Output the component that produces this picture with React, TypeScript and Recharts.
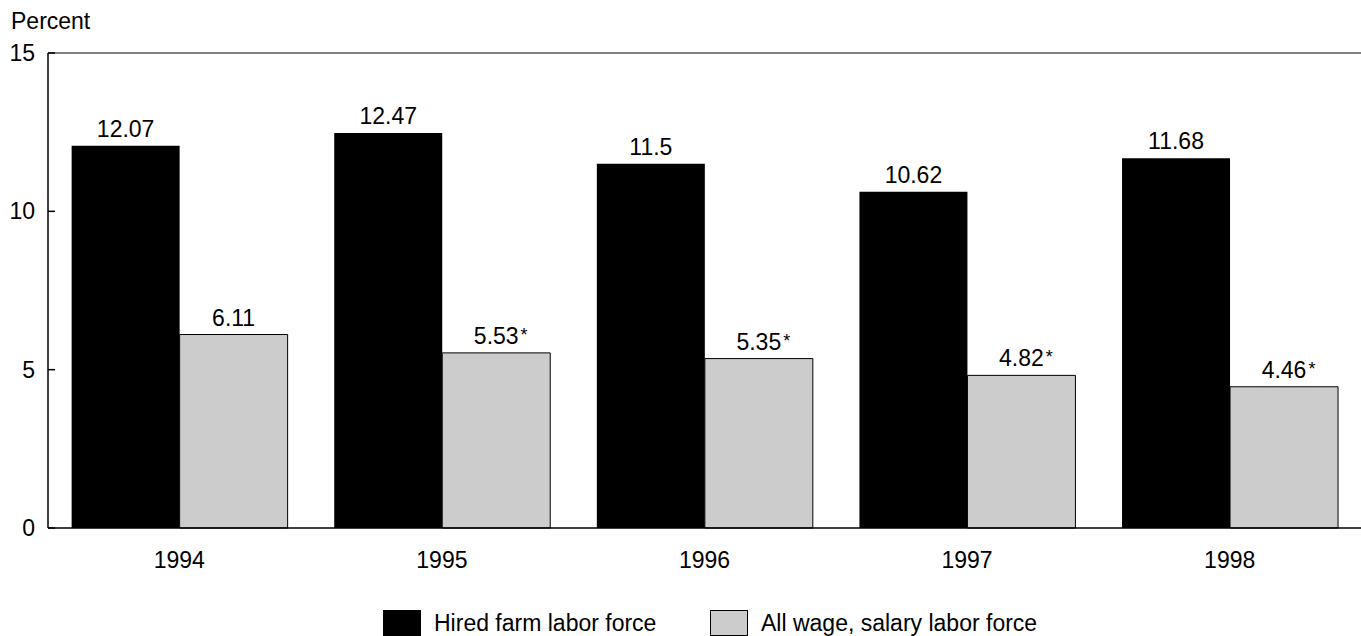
import { BarChart, Bar, XAxis, YAxis, Legend, LabelList, ReferenceLine } from 'recharts';

const years = ['1994', '1995', '1996', '1997', '1998'];
const hiredFarm = [12.07, 12.47, 11.5, 10.62, 11.68];
const allWage = [6.11, 5.53, 5.35, 4.82, 4.46];
// asterisk marks the values flagged in the source
const allWageFlag = [false, true, true, true, true];
const yTicks = [0, 5, 10, 15];

const FONT = '"Liberation Sans", Arial, sans-serif';
const FS = 23;

const data = years.map((year, i) => ({
  year,
  hired: hiredFarm[i],
  all: allWage[i],
}));

// rough Arial advance widths, used to place the asterisk after a centred number
function textWidth(s: string) {
  let w = 0;
  for (const ch of s) w += ch === '.' ? 0.278 : 0.556;
  return w * FS;
}

function makeLabel(flags?: boolean[]) {
  return (props: any) => {
    const { x, y, width, value, index } = props;
    const cx = Number(x) + Number(width) / 2;
    const by = Number(y) - 9;
    const txt = String(value);
    return (
      <g>
        <text x={cx} y={by} textAnchor="middle" fontSize={FS} fontFamily={FONT} fill="#000">
          {txt}
        </text>
        {flags && flags[index] && (
          <text x={cx + textWidth(txt) / 2 + 2} y={by - 3} fontSize={18} fontFamily={FONT} fill="#000">
            *
          </text>
        )}
      </g>
    );
  };
}

function LegendContent() {
  const items = [
    { label: 'Hired farm labor force', fill: '#000', left: 383 },
    { label: 'All wage, salary labor force', fill: '#cccccc', left: 710 },
  ];
  return (
    <div style={{ position: 'relative', height: 40, fontFamily: FONT, fontSize: FS, color: '#000' }}>
      {items.map((it) => (
        <div key={it.label} style={{ position: 'absolute', top: 14, left: it.left, display: 'flex' }}>
          <div
            style={{
              width: 38,
              height: 26,
              background: it.fill,
              border: '1px solid #000',
              boxSizing: 'border-box',
            }}
          />
          <span style={{ marginLeft: 13, lineHeight: '26px', whiteSpace: 'nowrap' }}>{it.label}</span>
        </div>
      ))}
    </div>
  );
}

export default function App() {
  return (
    <div style={{ position: 'absolute', left: 0, top: 0, background: '#fff' }}>
      <BarChart
        width={1361}
        height={636}
        data={data}
        margin={{ top: 53, right: 0, bottom: 0, left: 0 }}
        barCategoryGap="9%"
        barGap={0}
      >
        <XAxis
          dataKey="year"
          height={68}
          tickLine={false}
          tickSize={0}
          tickMargin={24}
          axisLine={{ stroke: '#000', strokeWidth: 1.5 }}
          tick={{ fill: '#000', fontSize: FS, fontFamily: FONT }}
        />
        <YAxis
          width={48}
          domain={[0, 15]}
          ticks={yTicks}
          interval={0}
          tickSize={-7}
          tickMargin={20}
          axisLine={{ stroke: '#000', strokeWidth: 1.5 }}
          tickLine={{ stroke: '#000', strokeWidth: 1.5 }}
          tick={{ fill: '#000', fontSize: FS, fontFamily: FONT }}
          label={(p: any) => (
            <text x={11} y={p.viewBox.y - 24} fontSize={FS} fontFamily={FONT} fill="#000">
              Percent
            </text>
          )}
        />
        <ReferenceLine y={15} stroke="#555" strokeWidth={1.5} />
        <Legend verticalAlign="bottom" height={40} content={<LegendContent />} />
        <Bar dataKey="hired" name="Hired farm labor force" fill="#000" isAnimationActive={false}>
          <LabelList dataKey="hired" content={makeLabel()} />
        </Bar>
        <Bar dataKey="all" name="All wage, salary labor force" fill="#cccccc" stroke="#000" strokeWidth={1} isAnimationActive={false}>
          <LabelList dataKey="all" content={makeLabel(allWageFlag)} />
        </Bar>
      </BarChart>
    </div>
  );
}
